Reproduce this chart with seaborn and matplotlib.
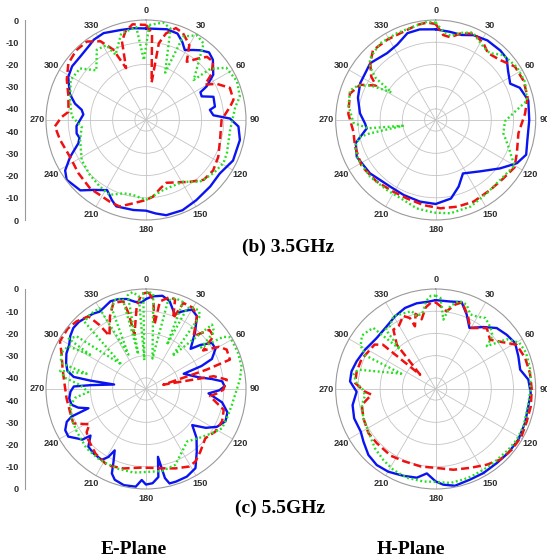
import numpy as np
import pandas as pd
import matplotlib
matplotlib.use("Agg")
import matplotlib.pyplot as plt
import seaborn as sns

sns.set_theme(style="white")
plt.rcParams["font.family"] = ["Liberation Sans", "DejaVu Sans"]

# ---------------------------------------------------------------------------
# Normalised radiation patterns (dB) versus angle (deg)
# solid = blue, dashed = red, dotted = green
# ---------------------------------------------------------------------------

# 3.5 GHz, E-plane
e35_solid_deg = [0, 13, 20, 25, 29, 34, 38, 43, 48, 56,
                 61, 63, 67, 71, 79, 81, 86, 89, 94, 102,
                 115, 126, 136, 148, 158, 168, 174, 180, 188, 199,
                 203, 209, 217, 223, 233, 238, 244, 251, 255, 259,
                 265, 275, 279, 283, 289, 299, 306, 314, 322, 327,
                 334, 344, 352]
e35_solid_db = [-3.8, -3.1, -3.6, -6.3, -9.0, -7.0, -5.2, -3.4, -4.5, -8.5,
                -13.8, -17.5, -17.8, -12.9, -13.4, -15.9, -14.6, -7.2, -3.3, -1.8,
                -1.8, -4.0, -3.4, -2.4, -1.2, -1.2, -2.7, -4.2, -4.1, -3.9,
                -5.8, -8.9, -5.6, -1.7, -0.3, -2.1, -7.0, -12.8, -14.0, -13.2,
                -13.6, -16.7, -15.7, -12.2, -8.7, -5.0, -3.9, -3.9, -3.0, -1.9,
                -1.5, -2.9, -3.3]

e35_dashed_deg = [0, 4, 8.5, 9.5, 13, 18, 23, 30, 35, 40,
                  44, 49, 55, 59, 63, 69, 77, 81, 90, 105,
                  117, 127, 136, 145, 162, 168, 175, 180, 189, 197,
                  204, 212, 219, 232, 244, 257, 266, 272, 276, 287,
                  297, 306, 315, 323, 330, 335, 339, 343, 347, 352,
                  356]
e35_dashed_db = [-2.2, -6.0, -28.0, -10.0, -5.0, -1.5, -2.5, -6.0, -13.0, -9.0,
                 -5.5, -5.0, -9.0, -14.0, -9.2, -4.6, -4.6, -6.7, -11.0, -10.5,
                 -8.5, -7.2, -7.6, -11.0, -15.3, -13.6, -10.3, -9.0, -7.0, -4.3,
                 -4.8, -5.4, -5.2, -6.3, -7.0, -5.3, -3.9, -7.0, -9.9, -8.5,
                 -5.0, -1.8, -0.6, -0.8, -4.1, -10.0, -20.0, -8.0, -4.0, -1.5,
                 -2.0]

e35_dotted_deg = [2, 10, 15, 22, 24, 31, 37, 50, 51.5, 57,
                  67, 76, 82, 97, 112, 119, 128, 139, 149, 166,
                  180, 190, 197, 206, 215, 226, 238, 253, 264, 273,
                  285, 298, 308, 315, 325, 332, 335, 344, 354, 358]
e35_dotted_db = [-2.2, -0.5, -2.4, -22.0, -3.9, -0.5, -1.9, -17.0, -8.0, -1.9,
                 -0.5, -1.5, -4.5, -6.9, -5.7, -5.1, -6.3, -8.1, -12.6, -12.6,
                 -9.0, -10.8, -10.5, -7.5, -8.6, -9.7, -10.9, -14.0, -15.9, -11.5,
                 -9.6, -6.6, -7.3, -13.4, -6.4, -6.9, -12.6, -4.5, -2.9, -18.0]

# 3.5 GHz, H-plane
h35_solid_deg = [0, 9, 17, 24, 33, 43, 49, 56, 64, 69,
                 78, 90, 102, 111, 118, 127, 139, 153, 161, 169,
                 180, 191, 203, 214, 231, 245, 254, 263, 267, 275,
                 286, 296, 311, 324, 333, 342, 350]
h35_solid_db = [-4.2, -4.8, -5.0, -3.2, -2.3, -2.3, -2.7, -5.7, -7.7, -4.5,
                -2.4, -2.9, -2.8, -1.4, -3.6, -8.8, -14.4, -18.0, -13.3, -9.0,
                -7.2, -7.6, -8.3, -8.7, -6.9, -5.8, -7.6, -13.7, -13.2, -10.8,
                -8.6, -7.2, -6.0, -7.8, -6.9, -3.9, -3.6]

h35_dashed_deg = [0, 5, 10, 16, 24, 32, 38, 47, 56, 66,
                  76, 86, 99, 112, 121, 131, 142, 155, 166, 177,
                  188, 200, 211, 224, 238, 252, 262, 274, 287, 295,
                  300, 304, 311, 318, 329, 340, 349, 355]
h35_dashed_db = [-1.8, -6.6, -7.2, -4.5, -2.5, -4.4, -6.8, -5.4, -2.0, -1.7,
                 -2.4, -4.7, -7.3, -5.6, -3.6, -4.8, -5.1, -4.5, -4.8, -5.2,
                 -6.3, -7.4, -7.5, -6.6, -5.7, -6.8, -7.6, -5.6, -4.6, -7.5,
                 -14.0, -10.0, -6.0, -2.8, -2.8, -2.7, -1.4, -1.0]

h35_dotted_deg = [0, 5, 10, 16, 23, 33, 39, 46, 57, 67,
                  78, 83, 91, 101, 110, 116, 120, 130, 145, 158,
                  171, 181, 192, 202, 215, 229, 243, 252, 257.5, 258.5,
                  260, 263, 268, 279, 289, 294, 298, 302, 305, 309,
                  313, 324, 336, 347, 355]
h35_dotted_db = [-1.2, -5.1, -6.6, -4.2, -2.2, -5.7, -6.3, -2.8, -1.4, -1.3,
                 -3.0, -8.3, -13.8, -14.0, -10.2, -7.0, -4.0, -5.3, -4.8, -3.0,
                 -2.5, -3.3, -4.3, -6.2, -6.6, -6.0, -5.8, -6.8, -10.2, -14.8,
                 -30.0, -14.4, -8.0, -5.3, -4.2, -6.8, -12.0, -21.5, -12.0, -7.0,
                 -4.5, -2.4, -2.2, -1.8, -0.6]

# 5.5 GHz, E-plane
e55_solid_deg = [0, 4, 10, 15, 21, 25, 30, 35, 41, 48,
                 51, 55, 60, 65.5, 67.5, 68, 77.5, 81.4, 84.2, 88,
                 91, 94, 100, 106, 112, 118, 123, 128, 134, 141,
                 148, 155, 162, 166, 168, 170, 172, 176, 180, 182.7,
                 186, 193, 199, 202, 204, 207, 209, 212, 219, 225,
                 230, 231.5, 234.6, 238.5, 243, 247.5, 249.7, 251.5, 254.6, 258,
                 263, 268, 272, 274, 278, 278.6, 279.5, 283, 288, 294,
                 300, 305, 310, 315, 319, 325, 329, 333, 338, 343,
                 348, 353, 357]
e55_solid_db = [-4.5, -3.2, -2.4, -4.0, -9.0, -6.5, -3.7, -5.0, -11.4, -18.0,
                -13.5, -8.8, -8.9, -12.4, -18.0, -26.7, -20.7, -15.0, -10.6, -9.6,
                -12.0, -16.8, -10.2, -6.9, -6.4, -8.8, -12.9, -18.6, -13.4, -8.7,
                -3.0, -1.5, -1.2, -1.2, -4.0, -14.0, -5.0, -2.5, -2.0, -4.0,
                -0.8, -0.6, -1.8, -4.0, -9.0, -14.0, -10.0, -7.4, -7.6, -8.3,
                -12.4, -8.4, -6.7, -4.0, -4.2, -6.4, -9.3, -17.7, -13.4, -10.8,
                -10.2, -11.0, -12.5, -20.0, -30.5, -19.5, -12.0, -8.7, -7.2, -5.8,
                -5.1, -3.4, -2.3, -2.3, -2.9, -3.6, -4.4, -3.7, -2.4, -2.7,
                -3.6, -5.5, -6.0]

e55_dashed_deg = [1.5, 4.7, 7.5, 9, 14.6, 18, 21, 23.5, 30, 35,
                  42, 47, 52, 56, 60, 64, 70.7, 72.3, 76, 79.3,
                  83.4, 90.5, 93.5, 96.5, 105, 113, 121.6, 129.7, 139, 145.8,
                  151, 159.7, 168.6, 182.9, 196, 207, 218, 228.5, 234, 238,
                  244.7, 253.4, 263.3, 271.6, 283, 293, 299, 307.6, 314.3, 321.6,
                  324, 325.5, 333.6, 339.2, 345.5, 347, 348, 353.6, 357.4]
e55_dashed_db = [-1.5, -4.6, -16.0, -5.1, -2.2, -2.7, -11.0, -2.8, -2.8, -5.0,
                 -13.0, -6.0, -6.4, -14.0, -7.0, -4.6, -5.0, -16.4, -37.0, -14.0,
                 -8.4, -10.2, -13.0, -16.0, -8.8, -7.8, -8.4, -10.3, -7.7, -5.5,
                 -5.1, -6.9, -8.6, -9.6, -7.8, -6.5, -8.1, -10.4, -12.0, -15.0,
                 -8.8, -9.3, -9.0, -8.5, -6.5, -3.7, -0.7, -0.5, -1.4, -3.3,
                 -9.4, -16.0, -8.5, -3.6, -4.2, -10.0, -20.0, -7.5, -2.1]

e55_dotted_deg = [2, 4.4, 12, 14, 18, 23, 25.3, 27, 31, 34,
                  36.5, 38.5, 45.7, 50, 53, 56, 58.5, 68, 76.7, 84,
                  89.6, 100.5, 109.9, 117.4, 123.9, 133, 142, 150, 158.9, 169,
                  182.7, 188.6, 200.3, 213, 225, 238.4, 248.5, 258, 263, 267,
                  273.5, 278, 282, 284.5, 287, 293, 298.8, 301.5, 303, 307.2,
                  315, 317.5, 323, 330, 332.8, 337, 341, 345.5, 347.4, 349,
                  352, 355.5, 356.7, 358.4]
e55_dotted_db = [-1.5, -2.0, -31.0, -4.0, -2.0, -2.5, -23.0, -4.0, -2.5, -2.5,
                 -4.0, -26.0, -3.5, -5.0, -14.0, -3.0, -0.5, -0.5, -0.8, -2.5,
                 -4.0, -5.7, -6.3, -6.5, -9.3, -12.6, -15.0, -12.5, -8.4, -7.4,
                 -7.5, -7.0, -6.9, -6.9, -7.2, -8.4, -9.0, -10.3, -13.0, -19.0,
                 -15.3, -8.0, -5.5, -17.4, -5.0, -3.5, -5.1, -15.5, -3.5, -5.8,
                 -29.5, -4.0, -3.0, -3.0, -27.6, -5.4, -2.5, -3.0, -29.0, -2.0,
                 -1.0, -3.0, -32.0, -2.0]

# 5.5 GHz, H-plane
h55_solid_deg = [0, 9.3, 16.6, 22.6, 28.9, 37.6, 45, 52.6, 59.9, 68.4,
                 77.1, 84.2, 92.4, 100.6, 110.8, 121.5, 131.4, 140.5, 150.4, 159.3,
                 168.7, 175.4, 180, 182.6, 186, 192, 200.5, 209.8, 217.8, 225.6,
                 234, 240.4, 250.2, 259, 268, 275.1, 281.9, 289.3, 299, 310.8,
                 322, 330.8, 339.3, 347.4, 356]
h55_solid_db = [-5.0, -5.1, -4.2, -8.7, -13.6, -9.8, -6.2, -4.8, -3.7, -5.0,
                -6.0, -3.1, -2.2, -2.6, -2.0, -1.4, -1.5, -1.8, -1.5, -1.4,
                -0.6, -1.8, -3.4, -5.0, -6.8, -4.2, -3.3, -2.1, -1.7, -2.6,
                -4.8, -6.2, -6.0, -6.9, -9.4, -6.3, -6.3, -7.3, -8.6, -9.9,
                -9.2, -7.5, -6.0, -5.5, -5.5]

h55_dashed_deg = [0, 8, 13, 17, 24, 29.4, 40, 47.8, 55.4, 61.3,
                  70.9, 80.4, 90, 100.3, 109.6, 118.8, 128.6, 137.7, 146, 156.5,
                  167.6, 180, 191, 203.6, 214, 227.5, 236.8, 247.9, 257.8, 265,
                  268, 274.3, 282.6, 292, 300, 306, 310, 312.5, 318.7, 324.5,
                  330, 336, 340, 341.7, 345, 348.6, 353, 357]
h55_dashed_db = [-6.0, -9.7, -6.0, -4.2, -9.2, -13.5, -9.2, -12.0, -8.0, -3.5,
                 -2.4, -2.0, -1.8, -1.5, -1.5, -0.9, -1.2, -2.0, -3.9, -6.3,
                 -7.8, -9.5, -9.5, -9.5, -8.8, -9.0, -8.8, -9.9, -11.0, -16.0,
                 -13.0, -8.6, -8.6, -9.0, -10.5, -11.0, -14.0, -35.5, -18.5, -12.2,
                 -12.0, -9.0, -11.0, -15.3, -10.0, -13.0, -8.0, -6.0]

h55_dotted_deg = [0, 3, 6.3, 10, 15, 20, 25, 29.4, 35, 42,
                  47, 50, 55, 61, 68, 77, 85, 92, 100.6, 113,
                  122, 130, 142, 149.4, 158, 163, 171, 180, 187.6, 198,
                  207.6, 216.4, 225.6, 237.6, 247.9, 257.8, 265, 270, 274.3, 280,
                  284, 294, 295.5, 300, 306, 311, 314.4, 318, 320, 324,
                  330, 336, 339, 343, 345.3, 350, 354, 357]
h55_dotted_db = [-3.0, -4.0, -13.6, -7.0, -4.0, -4.5, -8.0, -7.5, -6.0, -8.0,
                 -10.0, -15.0, -6.0, -2.0, -1.2, -1.5, -2.2, -2.5, -2.8, -2.1,
                 -2.0, -2.4, -2.8, -2.8, -2.5, -2.4, -2.2, -3.2, -3.0, -3.0,
                 -3.9, -5.3, -6.8, -9.1, -9.9, -11.0, -13.1, -12.0, -9.3, -7.5,
                 -9.0, -28.0, -10.0, -6.0, -4.0, -5.0, -5.7, -21.0, -10.0, -10.0,
                 -7.0, -8.0, -8.1, -8.4, -11.2, -10.4, -5.0, -3.0]

angle_ticks = list(range(0, 360, 30))
radial_ticks = [0, -10, -20, -30, -40]
captions = ["(b) 3.5GHz", "(c) 5.5GHz"]
plane_names = ["E-Plane", "H-Plane"]

# ---------------------------------------------------------------------------
R_MIN, R_MAX = -45, 0
W, H = 547, 559
TEXT = "#2e2e2e"
GRID = "#c4c4c4"

STYLES = {
    "solid": dict(color="#0a14f0", linestyle="-", lw=1.7),
    "dashed": dict(color="#f01010", linestyle=(0, (3.2, 1.6)), lw=1.8),
    "dotted": dict(color="#22e01e", linestyle=(0, (0.8, 1.1)), lw=1.7),
}

fig = plt.figure(figsize=(W / 100, H / 100), dpi=100)
fig.patch.set_facecolor("white")


def px_box(cx, cy, r=100):
    return [(cx - r) / W, 1 - (cy + r) / H, 2 * r / W, 2 * r / H]


def polar_panel(cx, cy, series):
    ax = fig.add_axes(px_box(cx, cy), projection="polar")
    ax.set_theta_zero_location("N")
    ax.set_theta_direction(-1)
    for name, deg, db in series:
        deg = np.append(np.asarray(deg, float), deg[0] + 360.0)
        db = np.append(np.asarray(db, float), db[0])
        df = pd.DataFrame({"theta": np.deg2rad(deg), "gain": db})
        sns.lineplot(data=df, x="theta", y="gain", ax=ax, sort=False,
                     estimator=None, **STYLES[name])
    ax.set_ylim(R_MIN, R_MAX)
    ax.set_xticks(np.deg2rad(angle_ticks))
    ax.set_xticklabels([str(a) for a in angle_ticks])
    ax.set_yticks([-40, -30, -20, -10])
    ax.set_yticklabels([])
    ax.set_xlabel("")
    ax.set_ylabel("")
    ax.grid(True, color=GRID, lw=0.6)
    ax.spines["polar"].set_color("#9a9a9a")
    ax.spines["polar"].set_linewidth(0.8)
    ax.tick_params(axis="x", pad=-6.5, labelsize=6.6, colors=TEXT)
    for t in ax.get_xticklabels():
        t.set_fontweight("bold")
    ax.set_facecolor("white")
    return ax


def radial_scale(cy, x_line=25, r=100):
    ax = fig.add_axes([x_line / W, 1 - (cy + r) / H, 0.0001, 2 * r / H])
    ax.set_ylim(-r, r)
    ax.set_xlim(0, 1)
    pos, lab = [], []
    for d in radial_ticks:
        frac = (d - R_MIN) / (R_MAX - R_MIN) * r
        pos += [frac, -frac]
        lab += [str(d), str(d)]
    ax.set_yticks(pos)
    ax.set_yticklabels(lab)
    for s in ["top", "right", "bottom"]:
        ax.spines[s].set_visible(False)
    ax.spines["left"].set_color("#9a9a9a")
    ax.spines["left"].set_linewidth(0.8)
    ax.set_xticks([])
    ax.tick_params(axis="y", direction="out", length=3, width=0.7,
                   color="#9a9a9a", labelsize=6.6, labelcolor=TEXT, pad=1.5)
    for t in ax.get_yticklabels():
        t.set_fontweight("bold")
    ax.set_facecolor("none")
    return ax


polar_panel(146, 120, [("solid", e35_solid_deg, e35_solid_db),
                       ("dashed", e35_dashed_deg, e35_dashed_db),
                       ("dotted", e35_dotted_deg, e35_dotted_db)])
polar_panel(435.7, 120, [("solid", h35_solid_deg, h35_solid_db),
                         ("dashed", h35_dashed_deg, h35_dashed_db),
                         ("dotted", h35_dotted_deg, h35_dotted_db)])
polar_panel(146, 389, [("solid", e55_solid_deg, e55_solid_db),
                       ("dashed", e55_dashed_deg, e55_dashed_db),
                       ("dotted", e55_dotted_deg, e55_dotted_db)])
polar_panel(435.7, 389, [("solid", h55_solid_deg, h55_solid_db),
                         ("dashed", h55_dashed_deg, h55_dashed_db),
                         ("dotted", h55_dotted_deg, h55_dotted_db)])

radial_scale(120)
radial_scale(389)

serif = dict(family=["Liberation Serif", "DejaVu Serif"], fontweight="bold",
             fontsize=14, color="black", ha="center", va="center")
fig.text(288 / W, 1 - 247 / H, captions[0], **serif)
fig.text(280 / W, 1 - 508 / H, captions[1], **serif)
fig.text(134 / W, 1 - 549 / H, plane_names[0], **serif)
fig.text(411 / W, 1 - 549 / H, plane_names[1], **serif)

fig.savefig("out.png", dpi=100, facecolor="white")
